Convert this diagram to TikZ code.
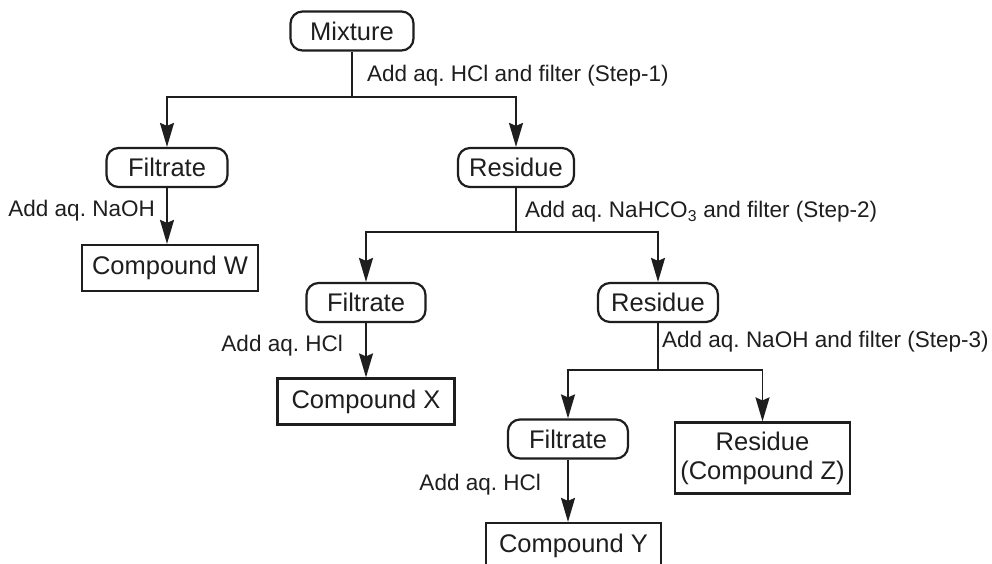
\documentclass[tikz,border=0pt]{standalone}
\usepackage{fontspec}
\setmainfont{Liberation Sans}
\usetikzlibrary{arrows.meta}
\definecolor{ink}{HTML}{1E1E1E}
\frenchspacing
\begin{document}
\begin{tikzpicture}[x=1pt,y=-1pt,
  rbox/.style={draw=ink, text=ink, line width=2.2pt, rounded corners=12pt, minimum width=#1, minimum height=39pt, inner sep=0pt, font=\fontsize{25.5}{29}\selectfont},
  sbox/.style={draw=ink, text=ink, line width=2.2pt, minimum width=#1, minimum height=46pt, inner sep=0pt, font=\fontsize{25.5}{29}\selectfont, align=center},
  lbl/.style={inner sep=0pt, text=ink, font=\fontsize{22.5}{26}\selectfont},
  conn/.style={draw=ink, line width=1.9pt},
  arr/.style={conn, -{Stealth[length=24pt,width=14pt,inset=3pt]}}]
\clip (0,0) rectangle (992,563);
\fill[white] (0,0) rectangle (992,563);
% nodes
\node[rbox=123pt] (mix) at (352,31) {Mixture};
\node[rbox=121pt] (fil1) at (167,167.5) {Filtrate};
\node[rbox=116pt] (res1) at (516,167.5) {Residue};
\node[sbox=176pt] (cw) at (170,268) {Compound W};
\node[rbox=119pt] (fil2) at (366,302.5) {Filtrate};
\node[rbox=120pt] (res2) at (658,302.5) {Residue};
\node[sbox=177pt] (cx) at (366,401.5) {Compound X};
\node[rbox=120pt] (fil3) at (568,439) {Filtrate};
\node[sbox=175pt, minimum height=71pt] (cz) at (762.5,458) {Residue\\(Compound Z)};
\node[sbox=175pt] (cy) at (573.5,546) {Compound Y};
% branch points
\coordinate (b1) at (mix.south |- 0,97);
\coordinate (b2) at (res1.south |- 0,232);
\coordinate (b3) at (res2.south |- 0,370);
% connectors
\draw[conn] (mix.south) -- (b1);
\draw[arr] (b1) -| (fil1.north);
\draw[arr] (b1) -| (res1.north);
\draw[arr] (fil1.south) -- (fil1.south |- cw.north);
\draw[conn] (res1.south) -- (b2);
\draw[arr] (b2) -| (fil2.north);
\draw[arr] (b2) -| (res2.north);
\draw[arr] (fil2.south) -- (cx.north);
\draw[conn] (res2.south) -- (b3);
\draw[arr] (b3) -| (fil3.north);
\draw[arr] (b3) -| (cz.north);
\draw[arr] (fil3.south) -- (fil3.south |- cy.north);
% labels
\node[lbl, anchor=west] (l1) at (367,76) {Add aq. HCl and filter (Step-1)};
\node[lbl, anchor=east] (l2) at (155,211) {Add aq. NaOH};
\node[lbl, anchor=west] (l3) at (525,212) {Add aq. NaHCO\textsubscript{3} and filter (Step-2)};
\node[lbl, anchor=east] (l4) at (343,346) {Add aq. HCl};
\node[lbl, anchor=west] (l5) at (662,342) {Add aq. NaOH and filter (Step-3)};
\node[lbl, anchor=east] (l6) at (541,485) {Add aq. HCl};
\end{tikzpicture}
\end{document}
